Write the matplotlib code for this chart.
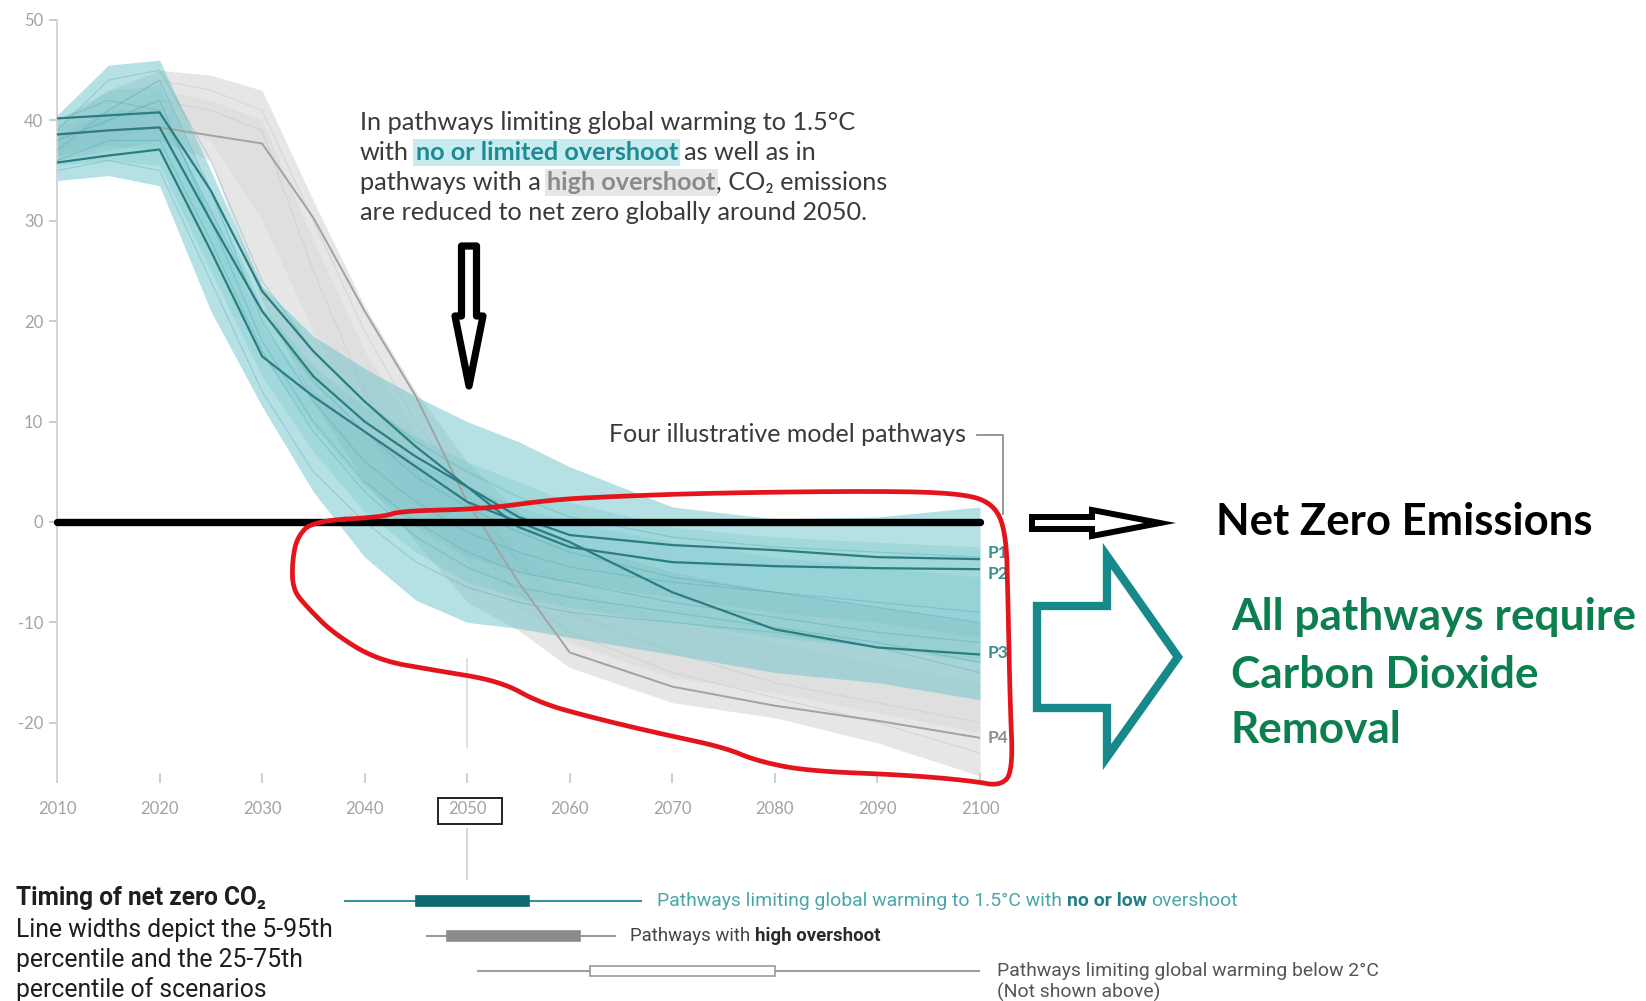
import matplotlib
matplotlib.use('Agg')
import matplotlib.pyplot as plt
from matplotlib.patches import Polygon, Rectangle
from matplotlib.lines import Line2D

plt.rcParams['font.family'] = ['Lato', 'DejaVu Sans']

# ------------------------------------------------------------------ data
years = [2010, 2015, 2020, 2025, 2030, 2035, 2040, 2045, 2050, 2055, 2060, 2070, 2080, 2090, 2100]

# 1.5C no / limited overshoot range (teal)
teal_outer_lo = [34.0, 34.5, 33.5, 21.0, 11.5, 3.0, -3.5, -7.8, -10.0, -10.6, -11.5, -13.2, -15.0, -16.0, -17.7]
teal_outer_hi = [40.5, 45.5, 46.0, 35.0, 23.5, 18.5, 15.3, 12.5, 10.0, 8.0, 5.5, 1.5, 0.3, 0.5, 1.5]
teal_mid_lo = [35.5, 36.0, 35.5, 25.0, 14.5, 7.0, 1.0, -3.0, -6.0, -7.5, -8.5, -10.0, -11.5, -12.5, -14.0]
teal_mid_hi = [39.5, 43.0, 43.5, 33.0, 21.5, 15.5, 11.5, 8.5, 6.0, 4.0, 2.0, -0.5, -1.5, -2.0, -2.5]
teal_core_lo = [36.5, 37.5, 37.0, 27.0, 16.5, 9.5, 3.5, -0.5, -3.5, -5.0, -6.0, -7.5, -9.0, -10.0, -11.5]
teal_core_hi = [38.5, 41.0, 41.0, 31.0, 19.5, 13.0, 9.0, 6.0, 3.5, 1.5, 0.0, -2.0, -3.5, -4.5, -5.5]

# high overshoot range (grey)
gray_outer_lo = [36.0, 37.0, 38.0, 36.0, 22.0, 12.0, 4.0, -2.0, -8.0, -10.8, -14.5, -18.0, -19.5, -22.0, -25.3]
gray_outer_hi = [40.0, 43.0, 45.0, 44.5, 43.0, 32.0, 21.5, 13.0, 6.0, 1.0, -2.0, -5.0, -7.0, -8.5, -10.0]
gray_core_lo = [37.0, 38.0, 39.5, 38.0, 30.0, 19.0, 9.0, 2.0, -4.0, -8.5, -12.0, -15.5, -17.0, -19.0, -21.0]
gray_core_hi = [39.0, 41.0, 43.0, 42.0, 40.0, 28.0, 17.0, 9.0, 2.0, -3.0, -6.5, -10.0, -12.0, -14.0, -16.0]

# individual 1.5C scenarios (faint lines)
teal_scenarios = [
    [37.0, 41.0, 44.0, 33.0, 20.0, 12.0, 6.0, 2.0, -1.0, -3.0, -4.5, -6.0, -7.0, -8.0, -9.0],
    [39.0, 44.0, 45.0, 36.0, 24.0, 17.0, 12.0, 8.0, 5.0, 2.5, 0.5, -1.5, -2.5, -3.0, -3.5],
    [35.0, 36.0, 35.0, 24.0, 13.0, 5.0, 0.0, -4.0, -6.5, -8.0, -9.0, -10.0, -11.0, -12.5, -15.0],
    [38.0, 40.0, 42.0, 30.0, 18.0, 10.0, 4.0, 0.0, -3.0, -5.0, -6.0, -8.0, -9.5, -11.0, -12.0],
    [36.0, 38.0, 38.0, 28.0, 17.0, 9.0, 3.0, -1.5, -4.5, -6.5, -7.5, -9.0, -10.5, -12.0, -14.0],
    [40.0, 42.0, 41.0, 31.0, 21.0, 14.0, 9.0, 4.5, 1.5, -1.0, -3.0, -5.5, -7.0, -8.5, -10.0],
]
gray_scenarios = [
    [39.0, 41.0, 44.0, 43.0, 41.0, 30.0, 19.0, 10.0, 3.0, -4.0, -9.0, -13.0, -16.0, -18.0, -20.0],
    [38.0, 40.0, 42.0, 41.0, 39.0, 25.0, 13.0, 5.0, -2.0, -7.0, -11.0, -15.0, -17.5, -20.0, -23.0],
]

# four illustrative pathways
pathway_names = ['P1', 'P2', 'P3', 'P4']
p1 = [38.6, 39.0, 39.3, 30.0, 21.0, 14.5, 10.0, 6.5, 3.5, 0.5, -1.3, -2.3, -2.8, -3.5, -3.7]
p2 = [40.2, 40.5, 40.8, 33.0, 23.0, 17.0, 12.0, 7.5, 3.5, -0.5, -2.5, -4.0, -4.4, -4.6, -4.7]
p3 = [35.8, 36.5, 37.1, 27.0, 16.5, 12.5, 9.0, 5.5, 2.0, 0.0, -2.0, -7.0, -10.7, -12.5, -13.2]
p4 = [38.6, 39.0, 39.3, 38.5, 37.7, 30.3, 21.0, 12.5, 2.0, -6.0, -13.0, -16.4, -18.3, -19.8, -21.5]
pathways = [p1, p2, p3, p4]

x_ticks = [2010, 2020, 2030, 2040, 2050, 2060, 2070, 2080, 2090, 2100]
y_ticks = [-20, -10, 0, 10, 20, 30, 40, 50]
y_tick_labels = ['-20', '-10', '0', '10', '20', '30', '40', '50']

# timing of net zero CO2 (5th, 25th, 75th, 95th percentile years)
timing_p5 = [2038, 2046, 2051]
timing_p25 = [2045, 2048, 2062]
timing_p75 = [2056, 2061, 2080]
timing_p95 = [2067, 2064.5, 2100]

# ------------------------------------------------------------------ figure
W, H = 1646, 1001
fig = plt.figure(figsize=(W / 100, H / 100), dpi=100)
fig.patch.set_facecolor('white')
renderer = fig.canvas.get_renderer()


def fx(x):
    return x / W


def fy(y):
    return 1 - y / H


ax = fig.add_axes([fx(57), fy(778), (980 - 57) / W, (778 - 20) / H])
ax.set_xlim(2010, 2100)
ax.set_ylim(-25.5, 50)
ax.patch.set_alpha(0)

# grey bands
ax.fill_between(years, gray_outer_lo, gray_outer_hi, color='#d6d6d6', alpha=0.6, lw=0, zorder=1)
ax.fill_between(years, gray_core_lo, gray_core_hi, color='#d0d0d0', alpha=0.3, lw=0, zorder=1)
for s in gray_scenarios:
    ax.plot(years, s, color='#c6c6c6', lw=0.8, alpha=0.5, zorder=1.5)

# teal bands
ax.fill_between(years, teal_outer_lo, teal_outer_hi, color='#6cc4ca', alpha=0.5, lw=0, zorder=2)
ax.fill_between(years, teal_mid_lo, teal_mid_hi, color='#6cc4ca', alpha=0.28, lw=0, zorder=2)
ax.fill_between(years, teal_core_lo, teal_core_hi, color='#5ab7be', alpha=0.15, lw=0, zorder=2)
for s in teal_scenarios:
    ax.plot(years, s, color='#4aa3aa', lw=0.8, alpha=0.35, zorder=3)

# illustrative pathways
path_colors = ['#2b7d82', '#2b7d82', '#2b7d82', '#a2a2a2']
label_colors = ['#3a8f94', '#3a8f94', '#3a8f94', '#8f8f8f']
label_offsets = [0.6, -0.5, 0.2, 0.0]
for name, vals, c, lc, off in zip(pathway_names, pathways, path_colors, label_colors, label_offsets):
    ax.plot(years, vals, color=c, lw=1.6 if name != 'P4' else 1.4, zorder=4 if name != 'P4' else 3.5)
    ax.text(2100.7, vals[-1] + off, name, color=lc, fontsize=12.5, fontweight='bold',
            va='center', ha='left', clip_on=False, zorder=4)

# 2050 marker line
ax.vlines(2050, -22.5, -13.5, color='#dcdcdc', lw=1.2, zorder=1)

# thick net-zero line
ax.axhline(0, color='black', lw=5.3, solid_capstyle='round', zorder=6, clip_on=False)

# axes styling
for sp in ['top', 'right', 'bottom']:
    ax.spines[sp].set_visible(False)
ax.spines['left'].set_color('#d5d5d5')
ax.spines['left'].set_linewidth(1.5)
ax.set_xticks(x_ticks)
ax.set_xticklabels([str(v) for v in x_ticks])
ax.set_yticks(y_ticks)
ax.set_yticklabels(y_tick_labels)
ax.tick_params(axis='y', colors='#c4c4c4', labelcolor='#a3a3a3', length=6, width=1.2,
               pad=4, labelsize=12)
ax.tick_params(axis='x', colors='#c8c8c8', labelcolor='#a3a3a3', direction='inout',
               length=7, width=1.2, pad=13, labelsize=12)

# ------------------------------------------------------------------ text helpers


def text_width(s, size, family, weight='normal'):
    t = fig.text(0, 0, s, fontsize=size, family=family, fontweight=weight)
    w = t.get_window_extent(renderer).width
    t.remove()
    return w


def place_runs(x, y, runs, size, family, color, target_w=None):
    def build(sz):
        arts = []
        cx = x
        for s, kw in runs:
            wt = kw.get('fontweight', 'normal')
            sw = text_width('n n', sz, family, wt) - text_width('nn', sz, family, wt)
            lead = len(s) - len(s.lstrip(' '))
            trail = len(s) - len(s.rstrip(' '))
            core = s.strip(' ')
            cx += lead * sw
            if core:
                props = dict(fontsize=sz, family=family, color=color, va='baseline', ha='left')
                props.update(kw)
                t = fig.text(fx(cx), fy(y), core, **props)
                arts.append(t)
                cx += t.get_window_extent(renderer).width
            cx += trail * sw
        return arts, cx - x, sz

    arts, w, sz = build(size)
    if target_w:
        for a in arts:
            a.remove()
        arts, w, sz = build(size * target_w / w)
    return sz


HUM = ['Lato', 'DejaVu Sans']
NARROW = ['Roboto', 'DejaVu Sans']

# annotation block
ann_col = '#3a3a3a'
sz = place_runs(360, 130, [('In pathways limiting global warming to 1.5°C', {})], 15, HUM, ann_col, target_w=495)
place_runs(360, 160, [('with ', {}),
                      ('no or limited overshoot', dict(fontweight='bold', color='#1f8a92',
                                                       bbox=dict(facecolor='#c6ecef', edgecolor='none', pad=1.5))),
                      (' as well as in', {})], sz, HUM, ann_col)
place_runs(360, 190, [('pathways with a ', {}),
                      ('high overshoot', dict(fontweight='bold', color='#8a8a8a',
                                              bbox=dict(facecolor='#e6e6e6', edgecolor='none', pad=1.5))),
                      (', CO₂ emissions', {})], sz, HUM, ann_col)
place_runs(360, 220, [('are reduced to net zero globally around 2050.', {})], sz, HUM, ann_col)

place_runs(609, 442, [('Four illustrative model pathways', {})], 14, HUM, ann_col, target_w=359)
fig.add_artist(Line2D([fx(977), fx(1003), fx(1003)], [fy(435), fy(435), fy(514)],
                      transform=fig.transFigure, color='#8f8f8f', lw=1.3))

# right-hand texts
place_runs(1216, 535, [('Net Zero Emissions', dict(fontweight='bold'))], 28, HUM, 'black', target_w=376)
gsz = place_runs(1231, 630, [('All pathways require', dict(fontweight='bold'))], 28, HUM, '#0d7f4f', target_w=404)
place_runs(1231, 688, [('Carbon Dioxide', dict(fontweight='bold'))], gsz, HUM, '#0d7f4f')
place_runs(1231, 743, [('Removal', dict(fontweight='bold'))], gsz, HUM, '#0d7f4f')

# ------------------------------------------------------------------ arrows & shapes


def poly(points, **kw):
    pts = [(fx(x), fy(y)) for x, y in points]
    p = Polygon(pts, closed=True, transform=fig.transFigure, **kw)
    fig.add_artist(p)
    return p


# down arrow
poly([(461.5, 246), (476.5, 246), (476.5, 316), (483, 316), (469, 386), (455, 316), (461.5, 316)],
     facecolor='white', edgecolor='black', lw=5.2, joinstyle='round', zorder=10)
# right arrow (net zero)
poly([(1032, 517), (1092, 517), (1092, 510), (1160, 523), (1092, 536), (1092, 529), (1032, 529)],
     facecolor='white', edgecolor='black', lw=4.3, joinstyle='miter', zorder=10)
# teal arrow
poly([(1037, 606), (1107, 606), (1107, 556), (1178, 657), (1107, 757), (1107, 708), (1037, 708)],
     facecolor='white', edgecolor='#17898b', lw=6, joinstyle='miter', zorder=10)

# red hand-drawn outline


def chaikin(pts, n=3):
    for _ in range(n):
        new = []
        for i in range(len(pts)):
            p = pts[i]
            q = pts[(i + 1) % len(pts)]
            new.append((0.75 * p[0] + 0.25 * q[0], 0.75 * p[1] + 0.25 * q[1]))
            new.append((0.25 * p[0] + 0.75 * q[0], 0.25 * p[1] + 0.75 * q[1]))
        pts = new
    return pts


red_pts = [(313, 521), (383, 517), (400, 511), (483, 509), (550, 500), (600, 497), (707, 493),
           (873, 491), (957, 493), (992, 502), (1006, 530), (1008, 600), (1010, 700), (1013, 772),
           (1000, 786), (973, 781), (907, 775), (807, 771), (757, 761), (723, 747), (657, 733),
           (590, 717), (540, 703), (500, 681), (433, 670), (377, 660), (333, 633), (307, 607),
           (293, 590), (292, 563), (297, 537)]
sm = chaikin(red_pts)
sm.append(sm[0])
fig.add_artist(Line2D([fx(p[0]) for p in sm], [fy(p[1]) for p in sm], transform=fig.transFigure,
                      color='#e3141b', lw=3.4, solid_joinstyle='round', zorder=11))

# box around 2050 tick label
fig.add_artist(Rectangle((fx(438), fy(824)), (502 - 438) / W, (824 - 798) / H,
                         transform=fig.transFigure, fill=False, edgecolor='#222222', lw=1.4))

# ------------------------------------------------------------------ timing panel
axb = fig.add_axes([fx(57), fy(1001), (980 - 57) / W, (1001 - 826) / H])
axb.set_xlim(2010, 2100)
axb.set_ylim(2.857, -2.143)
axb.axis('off')
axb.patch.set_alpha(0)

axb.vlines(2050, -2.1, -0.6, color='#cfcfcf', lw=1.2)

line_cols = ['#2f9599', '#9a9a9a', '#a0a0a0']
box_face = ['#0d6b6f', '#8c8c8c', 'white']
box_edge = ['#0d6b6f', '#8c8c8c', '#9a9a9a']
rows = list(range(len(timing_p5)))
for r in rows:
    axb.hlines(r, timing_p5[r], timing_p95[r], color=line_cols[r], lw=1.5, zorder=1)
    axb.barh(r, timing_p75[r] - timing_p25[r], left=timing_p25[r], height=0.28,
             color=box_face[r], edgecolor=box_edge[r], lw=1.2, zorder=2)

# bottom-left legend text
place_runs(16, 905, [('Timing of net zero CO₂', dict(fontweight='bold'))], 15, NARROW, '#1e1e1e', target_w=252)
bsz = place_runs(16, 937, [('Line widths depict the 5-95th', {})], 15, NARROW, '#1e1e1e', target_w=318)
place_runs(16, 967, [('percentile and the 25-75th', {})], bsz, NARROW, '#1e1e1e')
place_runs(16, 997, [('percentile of scenarios', {})], bsz, NARROW, '#1e1e1e')

place_runs(657, 906, [('Pathways limiting global warming to 1.5°C with ', {}),
                      ('no or low', dict(fontweight='bold', color='#1f7f85')),
                      (' overshoot', {})], 12, NARROW, '#4aa5aa', target_w=580)
place_runs(630, 941, [('Pathways with ', {}),
                      ('high overshoot', dict(fontweight='bold', color='#2a2a2a'))], 12, NARROW, '#444444',
           target_w=250)
rsz = place_runs(997, 976, [('Pathways limiting global warming below 2°C', {})], 12, NARROW, '#555555',
                 target_w=380)
place_runs(997, 998, [('(Not shown above)', {})], rsz, NARROW, '#555555')

fig.savefig('out.png', dpi=100, facecolor='white')
